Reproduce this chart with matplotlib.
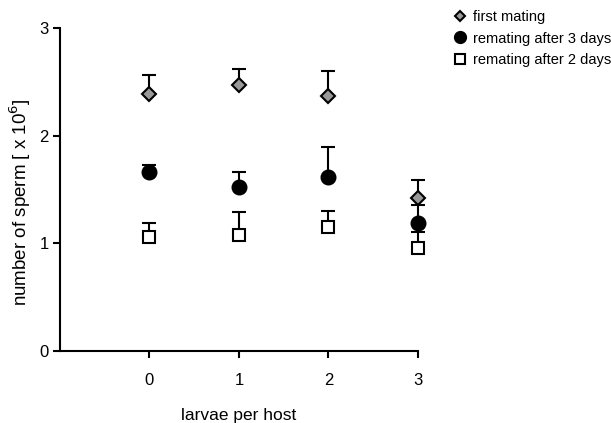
import matplotlib.pyplot as plt
import numpy as np

plt.rcParams['font.family'] = ['Liberation Sans', 'DejaVu Sans']

larvae = [0, 1, 2, 3]
first_mating = [2.39, 2.47, 2.37, 1.42]
first_mating_err = [0.17, 0.15, 0.23, 0.17]
remating_3d = [1.66, 1.52, 1.62, 1.19]
remating_3d_err = [0.07, 0.14, 0.27, 0.17]
remating_2d = [1.06, 1.08, 1.15, 0.96]
remating_2d_err = [0.13, 0.21, 0.15, 0.15]

fig = plt.figure(figsize=(6.11, 4.23), dpi=100)
ax = fig.add_axes([0.098, 0.17, 0.586, 0.764])

zeros = np.zeros(len(larvae))
series = [
    (remating_2d, remating_2d_err, 's', 'white', 'remating after 2 days', 9),
    (remating_3d, remating_3d_err, 'o', 'black', 'remating after 3 days', 10),
    (first_mating, first_mating_err, 'D', '#999999', 'first mating', 7),
]
handles = {}
for vals, err, mk, fc, lab, ms in series:
    eb = ax.errorbar(larvae, vals, yerr=[zeros, err], fmt='none', ecolor='black',
                     elinewidth=1.5, capsize=5, capthick=1.5, zorder=2)
    for art in eb.lines[1] + eb.lines[2]:
        art.set_clip_on(False)
    h, = ax.plot(larvae, vals, linestyle='none', marker=mk, markersize=ms,
                 markerfacecolor=fc, markeredgecolor='black', markeredgewidth=1.5,
                 label=lab, zorder=3, clip_on=False)
    handles[lab] = h

ax.set_xlim(-1, 3)
ax.set_ylim(0, 3)
ax.set_xticks(larvae)
ax.set_yticks([0, 1, 2, 3])
ax.spines['top'].set_visible(False)
ax.spines['right'].set_visible(False)
ax.spines['left'].set_linewidth(1.5)
ax.spines['bottom'].set_linewidth(1.5)
ax.tick_params(direction='out', length=5, width=1.5, labelsize=12)
ax.tick_params(axis='x', pad=11)
ax.tick_params(axis='y', pad=3)
ax.set_xlabel('larvae per host', fontsize=12.5, labelpad=14)
ax.set_ylabel('number of sperm [ x 10$^6$]', fontsize=13.5)
ax.yaxis.set_label_coords(-0.075, 0.46)

order = ['first mating', 'remating after 3 days', 'remating after 2 days']
leg = fig.legend([handles[k] for k in order], order, loc='upper left',
                 bbox_to_anchor=(0.725, 1.0), frameon=False, fontsize=10.5,
                 handletextpad=0.35, handlelength=1.0, labelspacing=0.5,
                 markerscale=0.8, borderaxespad=0.3)

fig.savefig('out.png', dpi=100)
